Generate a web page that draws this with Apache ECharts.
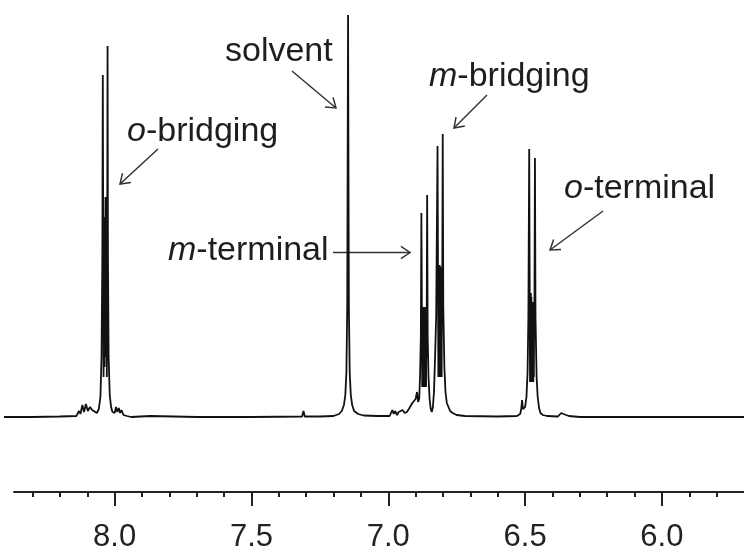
<!DOCTYPE html>
<html>
<head>
<meta charset="utf-8">
<script src="https://cdn.jsdelivr.net/npm/echarts@6/dist/echarts.min.js"></script>
<style>
  html, body { margin: 0; padding: 0; background: #fff; }
  #nmr { width: 744px; height: 553px; }
</style>
</head>
<body>
<div id="nmr"></div>
<script>
// chemical shift (ppm), left to right
var shifts = [
	8.420, 8.300, 8.200, 8.140, 8.130, 8.125, 8.118, 8.112, 8.105, 8.098, 8.090, 8.082, 8.075, 8.065,
	// o-bridging
	8.058, 8.052, 8.048, 8.045, 8.0433, 8.0415, 8.0405, 8.0395, 8.0385, 8.0375, 8.0365, 8.0355, 8.0345,
	8.0335, 8.0325, 8.0315, 8.0305, 8.0295, 8.0285, 8.0275, 8.0259, 8.0245,
	8.022, 8.018, 8.013, 8.008, 8.000, 7.995, 7.990, 7.985, 7.980, 7.975, 7.968, 7.955, 7.940, 7.870,
	7.700, 7.500, 7.315, 7.310, 7.305, 7.250, 7.200, 7.180, 7.170,
	// solvent
	7.162, 7.157, 7.153, 7.150, 7.1485, 7.147, 7.1455, 7.144, 7.141, 7.137, 7.132, 7.125, 7.110, 7.090,
	7.040, 6.995, 6.990, 6.985, 6.980, 6.975, 6.968, 6.962, 6.955, 6.948, 6.940, 6.932, 6.925, 6.918,
	6.912, 6.906, 6.900, 6.895, 6.891,
	// m-terminal
	6.887, 6.884, 6.881, 6.879, 6.877, 6.876, 6.875, 6.874, 6.873, 6.872, 6.871, 6.870, 6.869, 6.868,
	6.867, 6.866, 6.865, 6.864, 6.863, 6.862, 6.861, 6.860, 6.858, 6.856, 6.853, 6.849,
	6.845, 6.841, 6.837, 6.833, 6.829,
	// m-bridging
	6.825, 6.820, 6.818, 6.817, 6.816, 6.815, 6.814, 6.813, 6.812, 6.811, 6.810, 6.809, 6.808, 6.807,
	6.806, 6.805, 6.804, 6.803, 6.801, 6.799, 6.795, 6.791, 6.786, 6.780, 6.774, 6.765, 6.750, 6.720,
	6.600, 6.530, 6.518, 6.514, 6.511, 6.508, 6.500, 6.495, 6.491, 6.488,
	// o-terminal
	6.485, 6.483, 6.482, 6.481, 6.480, 6.479, 6.478, 6.477, 6.476, 6.475, 6.474, 6.473, 6.472, 6.471,
	6.470, 6.469, 6.468, 6.467, 6.466, 6.464, 6.462, 6.458, 6.454, 6.449, 6.444, 6.435, 6.420, 6.380,
	6.368, 6.364, 6.360, 6.356, 6.350, 6.340, 6.300, 6.000, 5.680
];
// intensity (a.u.) at each shift
var intensity = [
	0, 0, 0.5, 1, 6, 3, 12, 5, 13, 6, 10, 7, 9, 4,
	8, 20, 60, 160, 342, 150, 40, 135, 50, 130, 60, 200, 70,
	220, 60, 135, 50, 130, 40, 140, 371, 160,
	60, 22, 10, 5, 4, 10, 5, 9, 4, 7, 2, 1, 0, 1,
	0, 0, 0.5, 6, 0.5, 0.5, 1, 3, 6,
	12, 22, 45, 110, 250, 402, 250, 110, 45, 22, 12, 6, 3, 1.5,
	1, 1, 3, 7, 3, 6, 2, 5, 3, 7, 4, 5, 8, 10,
	14, 12, 18, 25, 15,
	18, 40, 80, 204, 90, 30, 105, 35, 110, 40, 100, 30, 110, 35,
	105, 30, 110, 40, 100, 30, 90, 60, 222, 80, 40, 18,
	8, 5, 10, 25, 60,
	100, 271, 120, 40, 140, 45, 150, 40, 152, 50, 145, 40, 150, 45,
	145, 40, 130, 110, 283, 110, 50, 25, 14, 10, 6, 4, 2, 1,
	0.5, 1, 3, 8, 17, 8, 10, 20, 45, 100,
	268, 110, 35, 115, 40, 124, 35, 120, 40, 115, 35, 110, 40, 115,
	35, 110, 40, 100, 95, 259, 100, 40, 20, 9, 4, 2, 1, 0.5,
	4, 6, 3, 5, 2, 1, 0, 0, 0
];
var majorTicks = [6.0, 6.5, 7.0, 7.5, 8.0];
var minorTicks = [5.8, 5.9, 6.1, 6.2, 6.3, 6.4, 6.6, 6.7, 6.8, 6.9, 7.1, 7.2, 7.3, 7.4,
	7.6, 7.7, 7.8, 7.9, 8.1, 8.2, 8.3];

var FONT = 'Liberation Sans';
var INK = '#1e1e1e';

function arrow(x1, y1, x2, y2) {
	var ang = Math.atan2(y2 - y1, x2 - x1);
	var len = 11, spread = 0.6;
	var a = [x2 - len * Math.cos(ang - spread), y2 - len * Math.sin(ang - spread)];
	var b = [x2 - len * Math.cos(ang + spread), y2 - len * Math.sin(ang + spread)];
	var st = { stroke: '#333', lineWidth: 1.5, fill: null };
	return [
		{ type: 'line', shape: { x1: x1, y1: y1, x2: x2, y2: y2 }, style: st, silent: true },
		{ type: 'polyline', shape: { points: [a, [x2, y2], b] }, style: st, silent: true }
	];
}
function label(txt, x, baseline) {
	return {
		type: 'text', x: x, y: baseline - 12, silent: true,
		style: {
			text: txt, fontSize: 34, fontFamily: FONT, fill: INK, verticalAlign: 'middle',
			rich: { i: { fontStyle: 'italic', fontSize: 34, fontFamily: FONT, fill: INK } }
		}
	};
}

var chart = echarts.init(document.getElementById('nmr'));
var points = shifts.map((s, i) => [s, intensity[i]]);

var graphics = [
	label('solvent', 225, 64),
	label('{i|o}-bridging', 127, 144),
	label('{i|m}-bridging', 429, 89),
	label('{i|o}-terminal', 564, 201),
	label('{i|m}-terminal', 168, 263)
]
	.concat(arrow(292, 71, 336, 108))
	.concat(arrow(158, 149, 120, 184))
	.concat(arrow(487, 95, 454, 128))
	.concat(arrow(603, 211, 550, 250))
	.concat(arrow(333, 252.5, 410, 252.5));

var hidden = { show: false };
chart.setOption({
	animation: false,
	grid: [
		{ left: 5.2, right: 0, top: 0, bottom: 61 },
		{ left: 14, right: 0, top: 0, bottom: 61 }
	],
	xAxis: [
		{
			type: 'value', gridIndex: 0, inverse: true, position: 'bottom',
			min: 5.7, max: 8.4,
			axisLine: { show: false, onZero: false },
			axisTick: { show: true, length: 14, customValues: majorTicks, lineStyle: { color: '#222', width: 2 } },
			splitLine: hidden,
			axisLabel: {
				margin: 30, fontSize: 31, fontFamily: FONT, color: '#222',
				customValues: majorTicks,
				formatter: v => v.toFixed(1)
			}
		},
		{
			type: 'value', gridIndex: 0, inverse: true, position: 'bottom', offset: 0,
			min: 5.7, max: 8.4,
			axisLine: { show: false, onZero: false },
			axisTick: { show: true, length: 5, customValues: minorTicks, lineStyle: { color: '#222', width: 2 } },
			axisLabel: hidden, splitLine: hidden
		},
		{
			type: 'value', gridIndex: 1, min: 0, max: 1,
			axisLine: { show: true, onZero: false, lineStyle: { color: '#222', width: 2 } },
			axisTick: hidden, axisLabel: hidden, splitLine: hidden
		}
	],
	yAxis: [
		{ type: 'value', gridIndex: 0, min: -75, max: 417, show: false },
		{ type: 'value', gridIndex: 1, min: 0, max: 1, show: false }
	],
	series: [
		{
			type: 'line', xAxisIndex: 0, yAxisIndex: 0, data: points,
			showSymbol: false, sampling: null, clip: true,
			lineStyle: { color: '#111', width: 1.8 }
		}
	],
	graphic: graphics
});
</script>
</body>
</html>
